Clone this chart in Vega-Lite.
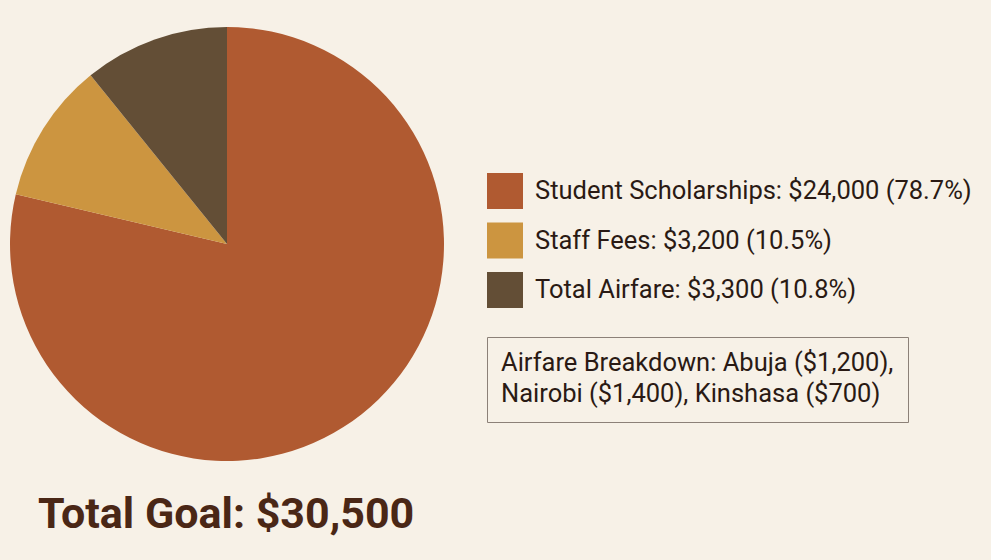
{
  "$schema": "https://vega.github.io/schema/vega-lite/v6.json",
  "width": 454,
  "height": 488,
  "padding": {"left": 0, "top": 0, "right": 20, "bottom": 24},
  "background": "#f7f1e7",
  "title": {
    "text": "Total Goal: $30,500",
    "orient": "bottom",
    "anchor": "start",
    "frame": "group",
    "dx": 38,
    "offset": 6,
    "font": "Roboto",
    "fontSize": 43,
    "fontWeight": "bold",
    "color": "#4a2716"
  },
  "data": {
    "values": [
      {"idx": 1, "category": "Student Scholarships", "amount": 24000, "label": "Student Scholarships: $24,000 (78.7%)", "note": "Airfare Breakdown"},
      {"idx": 2, "category": "Staff Fees", "amount": 3200, "label": "Staff Fees: $3,200 (10.5%)", "note": "Airfare Breakdown"},
      {"idx": 3, "category": "Total Airfare", "amount": 3300, "label": "Total Airfare: $3,300 (10.8%)", "note": "Airfare Breakdown"}
    ]
  },
  "mark": {"type": "arc", "outerRadius": 217},
  "encoding": {
    "theta": {"field": "amount", "type": "quantitative", "stack": true},
    "order": {"field": "idx", "type": "quantitative"},
    "color": {
      "field": "label",
      "type": "nominal",
      "sort": ["Student Scholarships: $24,000 (78.7%)", "Staff Fees: $3,200 (10.5%)", "Total Airfare: $3,300 (10.8%)"],
      "scale": {"range": ["#b05a31", "#cc9540", "#634e36"]},
      "legend": {
        "title": null,
        "orient": "none",
        "legendX": 487,
        "legendY": 173,
        "symbolType": "square",
        "symbolSize": 1296,
        "symbolStrokeWidth": 0,
        "labelFont": "Roboto",
        "labelFontSize": 25.5,
        "labelColor": "#2a1a14",
        "labelOffset": 12,
        "labelLimit": 600,
        "rowPadding": 13.5,
        "padding": 0
      }
    },
    "opacity": {
      "field": "note",
      "type": "nominal",
      "scale": {"type": "ordinal", "range": [1, 1]},
      "legend": {
        "title": ["Airfare Breakdown: Abuja ($1,200),", "Nairobi ($1,400), Kinshasa ($700)"],
        "titleFont": "Roboto",
        "titleFontSize": 25.5,
        "titleFontWeight": "normal",
        "titleColor": "#2a1a14",
        "titleLimit": 600,
        "titleLineHeight": 31,
        "titleBaseline": "top",
        "titlePadding": 0,
        "orient": "none",
        "legendX": 487,
        "legendY": 337,
        "symbolSize": 0,
        "symbolStrokeWidth": 0,
        "labelOffset": 0,
        "labelExpr": "''",
        "labelFontSize": 0.1,
        "padding": 14,
        "strokeColor": "#8c8178"
      }
    }
  },
  "config": {
    "view": {"stroke": null}
  }
}
